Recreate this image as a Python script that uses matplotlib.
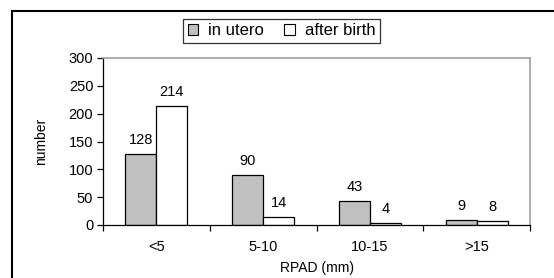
import numpy as np
import matplotlib
matplotlib.use("Agg")
import matplotlib.pyplot as plt
from matplotlib.patches import Rectangle, Patch

# data
categories = ["<5", "5-10", "10-15", ">15"]
in_utero = [128, 90, 43, 9]
after_birth = [214, 14, 4, 8]
series_names = ["in utero", "after birth"]

plt.rcParams['font.family'] = ['Liberation Sans', 'DejaVu Sans']

fig = plt.figure(figsize=(5.54, 2.78), dpi=100)
ax = fig.add_axes([103 / 554, 53 / 278, 427 / 554, 167 / 278])

x = np.arange(len(categories))
w = 0.29
b1 = ax.bar(x - w / 2, in_utero, w, color="#c0c0c0", edgecolor="black", linewidth=0.9)
b2 = ax.bar(x + w / 2, after_birth, w, color="white", edgecolor="black", linewidth=0.9)

# value labels
for bars, vals in ((b1, in_utero), (b2, after_birth)):
    for r, v in zip(bars, vals):
        ax.annotate(str(v), (r.get_x() + r.get_width() / 2, v), xytext=(0, 5),
                    textcoords="offset points", ha="center", va="bottom", fontsize=10.5)

ax.set_xlim(-0.5, len(categories) - 0.5)
ax.set_ylim(0, 300)
ax.set_yticks(range(0, 301, 50))
ax.set_xticks(x)
ax.set_xticklabels(categories)
ax.set_xticks(np.arange(-0.5, len(categories)), minor=True)
ax.tick_params(axis="x", which="major", length=0, labelsize=10.5, pad=11)
ax.tick_params(axis="x", which="minor", length=4, direction="out", width=0.9)
ax.tick_params(axis="y", length=4, direction="out", labelsize=10.5, width=0.9, pad=3)

for s in ("top", "right"):
    ax.spines[s].set_color("#a0a0a0")
    ax.spines[s].set_linewidth(1.2)
for s in ("left", "bottom"):
    ax.spines[s].set_color("black")
    ax.spines[s].set_linewidth(0.9)

ax.set_ylabel("number", fontsize=10)
ax.yaxis.set_label_coords(-0.128, 0.5)
ax.set_xlabel("RPAD (mm)", fontsize=10)
ax.xaxis.set_label_coords(0.5, -0.215)

# legend
handles = [Patch(facecolor="#c0c0c0", edgecolor="black", linewidth=0.8),
           Patch(facecolor="white", edgecolor="black", linewidth=0.8)]
leg = fig.legend(handles, series_names, loc="center", bbox_to_anchor=(0.5085, 0.889),
                 ncol=2, fontsize=12, frameon=True, fancybox=False,
                 handlelength=0.65, handleheight=0.65, handletextpad=0.6,
                 columnspacing=1.2, borderpad=0.25, borderaxespad=0)
leg.get_frame().set_edgecolor("black")
leg.get_frame().set_linewidth(0.9)

# outer chart border (runs off the right and bottom edges)
top = 1 - 11 / 278
fig.patches.append(Rectangle((11.5 / 554, -0.05), 1.1, top + 0.05,
                             transform=fig.transFigure, fill=False,
                             edgecolor="black", linewidth=1.5, clip_on=False))

fig.savefig("out.png", dpi=100)
